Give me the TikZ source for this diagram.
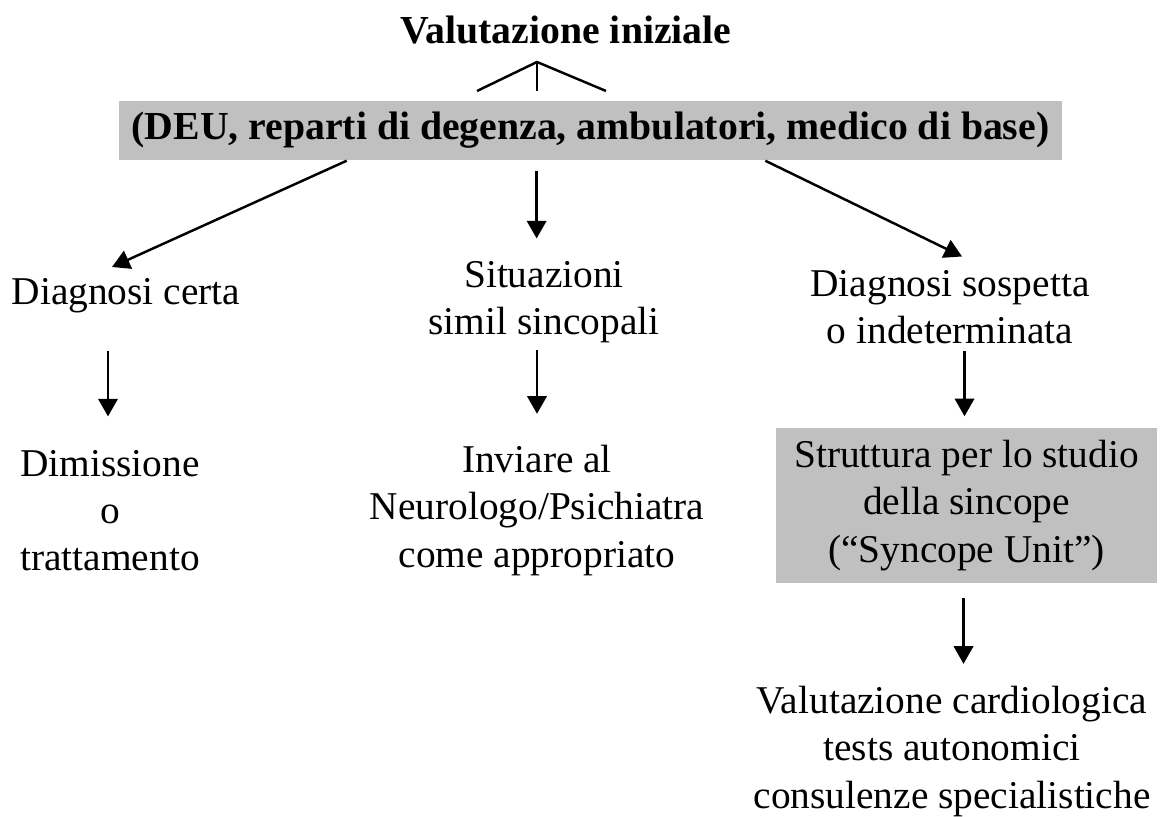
\documentclass[tikz,border=0pt]{standalone}
\usepackage{fontspec}
\setmainfont{Liberation Serif}
\usepackage{tikz}
\usetikzlibrary{arrows.meta,calc,positioning}
\definecolor{BoxGray}{RGB}{192,192,192}

\begin{document}
\begin{tikzpicture}[x=0.01cm,y=-0.01cm,
	txt/.style={align=center,inner sep=0pt,font=\fontsize{11.2}{13.4}\selectfont},
	hdr/.style={inner sep=0pt,font=\fontsize{11.3}{13.5}\selectfont\bfseries},
	graybox/.style={fill=BoxGray,inner sep=0pt},
	arr/.style={-{Triangle[length=5pt,width=5.5pt]},line width=0.7pt}]
	\useasboundingbox (0,0) rectangle (1165,816);
	
	% intestazione
	\node[hdr] (title) at (566,30) {Valutazione iniziale};
	\coordinate (apex) at (537,62);
	\draw[line width=0.7pt] (477,91) -- (apex) -- (606,91);
	\draw[line width=0.7pt] (apex) -- (537,91);
	\node[hdr,graybox,minimum width=9.43cm,minimum height=0.59cm] (deu) at (590.5,130.5)
		{(DEU, reparti di degenza, ambulatori, medico di base)};
	
	% tre rami
	\node[txt] (certa) at (126,296) {Diagnosi certa};
	\node[txt] (simil) at (544,302) {Situazioni\\simil sincopali};
	\node[txt] (sospetta) at (950,307) {Diagnosi sospetta\\o indeterminata};
	
	% esiti
	\node[txt] (dimiss) at (110,510.5) {Dimissione\\o\\trattamento};
	\node[txt] (inviare) at (537,510.5) {Inviare al\\Neurologo/Psichiatra\\come appropriato};
	\node[txt,graybox,minimum width=3.81cm,minimum height=1.55cm] (unit) at (966.5,505.5)
		{Struttura per lo studio\\della sincope\\(“Syncope Unit”)};
	\node[txt] (valut) at (952,751.5)
		{Valutazione cardiologica\\tests autonomici\\consulenze specialistiche};
	
	% frecce
	\coordinate (mid) at ($(deu.south west)!0.443!(deu.south east)$);
	\draw[arr] ($(deu.south west)!0.242!(deu.south east)$) -- ($(certa.north)+(-14,-11)$);
	\draw[arr] ($(mid)+(0,10)$) -- ($(mid |- simil.north)+(0,-22)$);
	\draw[arr] ($(deu.south west)!0.685!(deu.south east)$) -- ($(sospetta.north)+(12,-13)$);
	
	\draw[arr] ($(certa.south -| dimiss)+(-2,37)$) -- ($(dimiss.north)+(-2,-33)$);
	\draw[arr] ($(simil.south -| inviare)+(0,7)$) -- ($(inviare.north)+(0,-31)$);
	\draw[arr] ($(sospetta.south -| unit)+(-2,7)$) -- ($(unit.north)+(-2,-11)$);
	\draw[arr] ($(unit.south)+(-3,14)$) -- ($(valut.north -| unit.south)+(-3,-22)$);
\end{tikzpicture}
\end{document}
